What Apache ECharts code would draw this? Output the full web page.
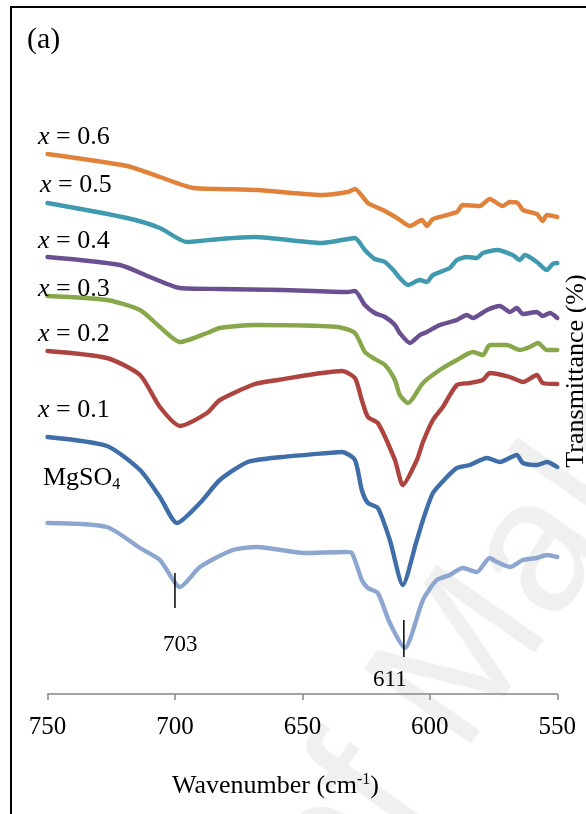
<!DOCTYPE html>
<html>
<head>
<meta charset="utf-8">
<script src="https://cdn.jsdelivr.net/npm/echarts@6/dist/echarts.min.js"></script>
<style>
  html, body { margin: 0; padding: 0; background: #fff; }
  #chart-container { width: 586px; height: 814px; }
</style>
</head>
<body>
<div id="chart-container"></div>
<script>
var dom = document.getElementById('chart-container');
var myChart = echarts.init(dom, null, { renderer: 'canvas' });

// x axis (wavenumber, cm-1), drawn reversed
const xTicks = [750, 700, 650, 600, 550];

// spectra: [wavenumber, transmittance (offset, a.u.)]
const spec06 = [[750,540],[718.8,528],[705.9,517],[692.9,506],[682.4,505],[667.5,504],[642.4,499],[632.2,502],[629.4,505],[624.3,491],[618.4,484],[612.9,476],[607.8,468],[603.1,474],[601.2,468],[598.8,475],[589.4,482],[587.1,489],[580.4,488],[576.5,495],[571.4,488],[568.6,492],[565.5,491],[563.5,484],[558.0,480],[555.7,473],[554.1,479],[550,477]];
const spec05 = [[750,491],[718.8,476],[705.9,466],[695.3,452],[682.4,455],[668.6,457],[642.4,451],[632.2,455],[629.4,456],[625.5,444],[621.6,435],[617.6,432],[613.7,422],[611.8,416],[608.6,409],[603.9,414],[601.2,412],[598.8,419],[592.2,426],[589.4,434],[585.5,437],[581.6,436],[579.2,441],[573.7,444],[567.5,439],[564.7,434],[562.7,439],[558.0,432],[554.1,424],[551.8,430],[550,431]];
const spec04 = [[750,437],[721.6,429],[709.8,417],[698.0,406],[682.4,405],[658.0,404],[632.2,402],[629.4,403],[625.5,389],[621.6,381],[617.6,377],[613.7,369],[611.8,361],[607.8,351],[603.9,359],[601.2,362],[596.1,369],[589.4,374],[585.5,379],[583.1,376],[577.6,384],[572.5,388],[568.6,382],[565.9,386],[563.5,380],[558.0,382],[555.7,378],[552.9,381],[550,376]];
const spec03 = [[750,398],[726.7,394],[713.7,384],[705.9,367],[698.0,352],[687.4,361],[682.4,366],[668.6,369],[636.1,367],[629.4,361],[625.5,342],[621.6,335],[617.6,329],[613.7,314],[611.8,299],[608.6,291],[602.7,311],[596.1,324],[589.4,334],[583.1,342],[579.2,339],[576.5,349],[569.8,349],[564.7,344],[560.8,347],[557.6,351],[554.1,344],[550,344]];
const spec02 = [[750,343],[726.7,336],[713.7,319],[705.9,287],[698.0,268],[687.4,281],[682.4,294],[668.6,310],[659.6,314],[634.5,323],[629.4,316],[626.7,294],[624.3,277],[620.4,271],[613.7,234],[610.6,209],[605.1,234],[602.7,252],[598.8,274],[594.9,287],[589.4,309],[584.3,311],[579.2,314],[576.5,321],[568.6,317],[563.5,312],[558.0,319],[555.7,311],[550,310]];
const spec01 = [[750,257],[726.7,248],[713.7,224],[705.9,197],[699.2,171],[690.2,191],[682.4,214],[671.4,232],[658.0,237],[640.0,241],[634.5,242],[629.4,234],[626.7,204],[624.3,191],[620.4,186],[615.7,154],[610.6,109],[605.1,154],[602.7,174],[598.8,201],[593.3,217],[589.4,226],[584.3,229],[577.6,236],[572.5,232],[565.9,239],[563.5,231],[558.0,229],[554.1,232],[550,227]];
const specMg = [[750,171],[726.7,167],[713.7,146],[705.9,134],[698.0,107],[690.2,127],[677.3,144],[667.8,147],[649.0,141],[633.3,142],[630.6,141],[626.7,114],[624.3,106],[620.4,101],[615.7,71],[609.8,46],[602.7,94],[597.3,114],[592.2,119],[587.1,126],[581.6,122],[576.5,136],[573.7,132],[568.6,127],[563.5,134],[558.0,136],[554.1,139],[550,137]];

const seriesNames = ['x = 0.6', 'x = 0.5', 'x = 0.4', 'x = 0.3', 'x = 0.2', 'x = 0.1', 'MgSO4'];
const seriesData = [spec06, spec05, spec04, spec03, spec02, spec01, specMg];
const seriesColors = ['#E0823A', '#3F9AB0', '#6A5091', '#87A74A', '#AE4440', '#3F6EA8', '#8DA6CF'];

// peak markers
const peakLines = [[[700, 121], [700, 86]], [[610.2, 74], [610.2, 37]]];

const serif = 'Liberation Serif, Times New Roman, serif';

var series = seriesData.map(function (d, i) {
  return {
    name: seriesNames[i],
    type: 'line',
    data: d,
    showSymbol: false,
    smooth: 0.22,
    lineStyle: { color: seriesColors[i], width: 4.4, cap: 'round', join: 'round' },
    z: 3
  };
});
peakLines.forEach(function (d) {
  series.push({
    type: 'line',
    data: d,
    showSymbol: false,
    lineStyle: { color: '#000', width: 1.5 },
    z: 4
  });
});

// text with italic / sub / superscript parts
function richText(text, x, y, size) {
  return {
    type: 'text',
    left: x,
    top: y,
    style: {
      text: text,
      font: size + 'px ' + serif,
      fill: '#000',
      rich: {
        i: { fontFamily: serif, fontSize: size, fontStyle: 'italic' },
        n: { fontFamily: serif, fontSize: size },
        s: { fontFamily: serif, fontSize: Math.round(size * 0.62), padding: [Math.round(size * 0.5), 0, 0, 0] },
        p: { fontFamily: serif, fontSize: Math.round(size * 0.62), padding: [0, 0, Math.round(size * 0.45), 0] }
      }
    },
    z: 10
  };
}

var option = {
  animation: false,
  backgroundColor: '#fff',
  grid: { left: 47.5, right: 28.7, top: 0, bottom: 120, containLabel: false },
  xAxis: {
    type: 'value',
    min: 550,
    max: 750,
    interval: 50,
    inverse: true,
    splitLine: { show: false },
    axisLine: { show: true, lineStyle: { color: '#888', width: 1.5 } },
    axisTick: { show: true, length: 6, lineStyle: { color: '#888', width: 1.5 } },
    axisLabel: {
      margin: 21,
      fontFamily: serif,
      fontSize: 25,
      color: '#000',
      formatter: function (v) { return xTicks.indexOf(v) >= 0 ? String(v) : ''; }
    }
  },
  yAxis: {
    type: 'value',
    min: 0,
    max: 694,
    show: false,
    splitLine: { show: false }
  },
  graphic: [
    { type: 'rect', shape: { x: 11, y: 7, width: 700, height: 900 },
      style: { fill: 'none', stroke: '#000', lineWidth: 2 }, z: 20 },
    { type: 'text', x: 220, y: 845, rotation: 55 * Math.PI / 180,
      style: { text: 'of Malaya', font: '190px ' + 'Liberation Sans, sans-serif', fill: '#f0f0f0' }, z: 0 },
    { type: 'text', left: 27, top: 25, style: { text: '(a)', font: '30px ' + serif, fill: '#000' }, z: 10 },
    richText('{i|x}{n| = 0.6}', 38, 124, 26),
    richText('{i|x}{n| = 0.5}', 40, 172, 26),
    richText('{i|x}{n| = 0.4}', 38, 228, 26),
    richText('{i|x}{n| = 0.3}', 38, 276, 26),
    richText('{i|x}{n| = 0.2}', 38, 321, 26),
    richText('{i|x}{n| = 0.1}', 38, 397, 26),
    richText('{n|MgSO}{s|4}', 43, 465, 26),
    { type: 'text', left: 163, top: 633, style: { text: '703', font: '23px ' + serif, fill: '#000' }, z: 10 },
    { type: 'text', left: 373, top: 668, style: { text: '611', font: '23px ' + serif, fill: '#000' }, z: 10 },
    richText('{n|Wavenumber (cm}{p|-1}{n|)}', 172, 772, 26),
    { type: 'text', x: 576, y: 371, rotation: Math.PI / 2,
      style: { text: 'Transmittance (%)', font: '26px ' + serif, fill: '#000', align: 'center', verticalAlign: 'middle' }, z: 10 }
  ],
  series: series
};

myChart.setOption(option);
window.addEventListener('resize', myChart.resize);
</script>
</body>
</html>
